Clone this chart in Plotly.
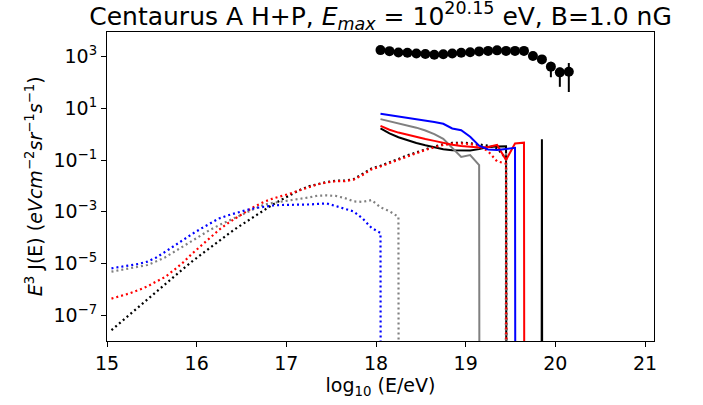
import numpy as np
import plotly.graph_objects as go

# ---------------- data (log10 values) ----------------
# energy grid: bin centres in log10(E/eV)
energy_grid = [15.05, 15.15, 15.25, 15.35, 15.45, 15.55, 15.65, 15.75, 15.85, 15.95,
               16.05, 16.15, 16.25, 16.35, 16.45, 16.55, 16.65, 16.75, 16.85, 16.95,
               17.05, 17.15, 17.25, 17.35, 17.45, 17.55, 17.65, 17.75, 17.85, 17.95,
               18.05, 18.15, 18.25, 18.35, 18.45, 18.55, 18.65, 18.75, 18.85, 18.95,
               19.05, 19.15, 19.25, 19.35, 19.45, 19.55, 19.65, 19.75, 19.85, 19.95,
               20.05, 20.15, 20.25, 20.35, 20.45, 20.55, 20.65, 20.75, 20.85, 20.95]

# dotted curves, starting at 15.05 (None = zero flux in that bin; missing tail = zero)
black_dotted = [-7.58, -7.28, -7.00, -6.71, -6.41, -6.11, -5.80, -5.50, -5.21, -4.92,
                -4.65, -4.38, -4.12, -3.87, -3.62, -3.39, -3.16, -2.94, -2.72, -2.53,
                -2.34, -2.16, -2.02, -1.92, -1.85, -1.80, -1.80, -1.74, -1.55, -1.33,
                -1.22, -1.10, -0.96, -0.82, -0.70, -0.59, -0.48, -0.39, -0.34, -0.33,
                -0.35, -0.40, -0.45, -0.55, -0.94]
gray_dotted = [-5.32, -5.25, -5.19, -5.13, -5.06, -4.92, -4.76, -4.55, -4.34, -4.11,
               -3.90, -3.70, -3.52, -3.35, -3.19, -3.04, -2.88, -2.73, -2.66, -2.61,
               -2.56, -2.52, -2.45, -2.38, -2.37, -2.39, -2.47, -2.60, -2.62, -2.55,
               -2.83, -2.98, -3.20, None, None, None, None, None, None, None,
               None, None, None, None, -0.68]
red_dotted = [-6.36, -6.26, -6.16, -6.03, -5.89, -5.70, -5.52, -5.25, -4.96, -4.62,
              -4.30, -4.00, -3.70, -3.44, -3.21, -3.00, -2.79, -2.62, -2.49, -2.40,
              -2.29, -2.17, -2.04, -1.94, -1.87, -1.82, -1.82, -1.76, -1.58, -1.36,
              -1.25, -1.12, -0.99, -0.85, -0.72, -0.61, -0.51, -0.42, -0.37, -0.36,
              -0.38, -0.46, -0.66, -1.05, -1.14]
blue_dotted = [-5.19, -5.14, -5.09, -5.02, -4.93, -4.77, -4.55, -4.31, -4.08, -3.86,
               -3.65, -3.44, -3.26, -3.14, -3.03, -2.94, -2.86, -2.80, -2.76, -2.74,
               -2.74, -2.73, -2.72, -2.70, -2.68, -2.78, -2.89, -2.99, -3.26, -3.63,
               -3.82]

# solid curves, starting at 18.05
black_solid = [0.22, 0.03, -0.12, -0.24, -0.34, -0.43, -0.52, -0.58, -0.62, -0.63,
               -0.63, -0.58, -0.50, -0.48, -0.47, None, None, None, -0.20]
gray_solid = [0.58, 0.50, 0.42, 0.33, 0.25, 0.14, 0.00, -0.18, -0.52, -0.88,
              -0.81, -1.20]
red_solid = [0.32, 0.17, 0.06, -0.03, -0.11, -0.19, -0.26, -0.34, -0.41, -0.46,
             -0.49, -0.52, -0.50, -0.42, -1.00, -0.36, -0.33]
blue_solid = [0.79, 0.74, 0.69, 0.63, 0.57, 0.52, 0.47, 0.40, 0.22, 0.15,
              -0.10, -0.45, -0.59, -0.61, -0.56, -0.53]

# measured spectrum (log10 of E^3 J) with asymmetric error bounds
data_logE = [18.05, 18.15, 18.25, 18.35, 18.45, 18.55, 18.65, 18.75, 18.85, 18.95, 19.05,
             19.15, 19.25, 19.35, 19.45, 19.55, 19.65, 19.75, 19.85, 19.95, 20.05, 20.15]
data_logflux = [3.25, 3.21, 3.16, 3.15, 3.12, 3.10, 3.07, 3.09, 3.12, 3.15, 3.17,
                3.20, 3.22, 3.24, 3.22, 3.22, 3.22, 3.02, 2.89, 2.61, 2.39, 2.41]
data_loghi = [3.26, 3.22, 3.17, 3.16, 3.13, 3.11, 3.08, 3.10, 3.13, 3.16, 3.18,
              3.21, 3.23, 3.25, 3.23, 3.23, 3.24, 3.10, 2.98, 2.80, 2.57, 2.75]
data_loglo = [3.24, 3.20, 3.15, 3.14, 3.11, 3.09, 3.06, 3.08, 3.11, 3.14, 3.16,
              3.19, 3.21, 3.23, 3.21, 3.21, 3.20, 2.90, 2.75, 2.20, 1.83, 1.63]

x_ticks = [15, 16, 17, 18, 19, 20, 21]
y_tick_exps = [-7, -5, -3, -1, 1, 3]

# ---------------- helpers ----------------
FLOOR = 1e-300  # zero flux drawn like a clipped log value


def to_linear(logvals, start, n_total):
    i0 = energy_grid.index(start)
    xs = energy_grid[i0:i0 + n_total]
    vals = list(logvals) + [None] * (len(xs) - len(logvals))
    ys = [10 ** v if v is not None else FLOOR for v in vals]
    return xs, ys


fig = go.Figure()

series = [
    ("black", black_solid, black_dotted),
    ("#808080", gray_solid, gray_dotted),
    ("red", red_solid, red_dotted),
    ("blue", blue_solid, blue_dotted),
]
for color, solid, dotted in series:
    xs, ys = to_linear(solid, 18.05, len(solid) + 1)
    fig.add_trace(go.Scatter(x=xs, y=ys, mode="lines",
                             line=dict(color=color, width=2), showlegend=False))
    xd, yd = to_linear(dotted, 15.05, len(dotted) + 1)
    fig.add_trace(go.Scatter(x=xd, y=yd, mode="lines",
                             line=dict(color=color, width=2.2, dash="2px,3px"),
                             showlegend=False))

flux = [10 ** v for v in data_logflux]
err_plus = [10 ** h - f for h, f in zip(data_loghi, flux)]
err_minus = [f - 10 ** l for l, f in zip(data_loglo, flux)]
fig.add_trace(go.Scatter(
    x=data_logE, y=flux, mode="markers",
    marker=dict(color="black", size=10, line=dict(width=0)),
    error_y=dict(type="data", symmetric=False, array=err_plus, arrayminus=err_minus,
                 color="black", thickness=2, width=0),
    showlegend=False))

FONT = "DejaVu Sans, Liberation Sans, sans-serif"
fig.update_layout(
    width=703, height=405,
    margin=dict(l=107, r=49, t=32, b=64),
    paper_bgcolor="white", plot_bgcolor="white",
    font=dict(family=FONT, color="black"),
    title=dict(
        text="Centaurus A H+P, <i>E</i><sub><i>max</i></sub> = 10<sup>20.15</sup> eV, B=1.0 nG",
        x=0.5, xref="paper", xanchor="center",
        y=1 - 16 / 405, yref="container", yanchor="middle",
        font=dict(size=25, family=FONT, color="black")),
    xaxis=dict(
        range=[15, 21.1], tickvals=x_ticks, ticktext=[str(t) for t in x_ticks],
        ticks="outside", ticklen=5, tickwidth=1, tickcolor="black",
        showline=True, linecolor="black", linewidth=1, mirror=True,
        showgrid=False, zeroline=False, automargin=False,
        tickfont=dict(size=19, family=FONT),
        title=dict(text="log<sub>10</sub> (E/eV)", font=dict(size=19, family=FONT),
                   standoff=2)),
    yaxis=dict(
        type="log", range=[-8.0, 3.95],
        tickvals=[10.0 ** e for e in y_tick_exps],
        ticktext=["10<sup>%s</sup>" % (str(e).replace("-", "\u2212")) for e in y_tick_exps],
        ticks="outside", ticklen=5, tickwidth=1, tickcolor="black",
        showline=True, linecolor="black", linewidth=1, mirror=True,
        showgrid=False, zeroline=False, automargin=False,
        tickfont=dict(size=19, family=FONT)),
    annotations=[dict(
        text="<i>E</i><sup>3</sup> J(E) (<i>eVcm</i><sup>\u22122</sup><i>sr</i>"
             "<sup>\u22121</sup><i>s</i><sup>\u22121</sup>)",
        textangle=-90, xref="paper", yref="paper", x=-0.134, y=0.5,
        xanchor="center", yanchor="middle", showarrow=False,
        font=dict(size=19, family=FONT, color="black"))],
)

fig.write_html("out.html", config={"displayModeBar": False},
               post_script="document.body.style.margin='0px';")
